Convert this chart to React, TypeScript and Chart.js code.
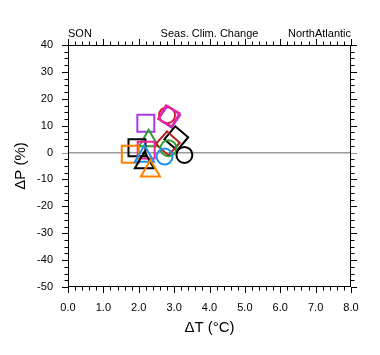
import React, { useEffect, useRef } from "react";
import { Chart, registerables } from "chart.js";

Chart.register(...registerables);

// Seasonal climate change, SON, North Atlantic
const dT: number[] = [2.20, 2.80, 2.87, 2.85, 2.28, 3.06, 2.82, 2.84, 1.95, 2.21, 1.76, 2.73, 3.29, 2.16, 2.16, 2.33];
const dP: number[] = [10.9, 13.9, 13.3, 13.6, 4.4, 5.3, 3.4, 1.6, 1.8, 0.9, -0.6, -1.5, -0.9, -1.4, -3.8, -6.9];

const markerStyle: string[] = ["rect", "circle", "rect", "rect", "triangle", "rect", "rect", "circle", "rect", "rect", "rect", "circle", "circle", "triangle", "triangle", "triangle"];
const markerColor: string[] = ["#a838f0", "#d02038", "#a838f0", "#f0209a", "#2e9e2e", "#000000", "#b02020", "#2e9e2e", "#000000", "#f0209a", "#ff8000", "#2090f0", "#000000", "#2090f0", "#000000", "#ff8000"];
const markerRadius: number[] = [12, 8, 11, 11, 11, 12, 12, 8, 12, 12, 12, 8, 8, 11, 11, 11];
const markerRotation: number[] = [0, 0, 35, 30, 0, 40, 42, 0, 0, 0, 0, 0, 0, 0, 0, 0];

const xTicks: number[] = [0, 1, 2, 3, 4, 5, 6, 7, 8];
const yTicks: number[] = [-50, -40, -30, -20, -10, 0, 10, 20, 30, 40];

const leftText = "SON";
const centerText = "Seas. Clim. Change";
const rightText = "NorthAtlantic";
const xTitle = "\u0394T (\u00B0C)";
const yTitle = "\u0394P (%)";

const FONT = "'Liberation Sans', Arial, Helvetica, sans-serif";

const framePlugin = {
  id: "framePlugin",
  afterDraw(chart: any) {
    const ctx = chart.ctx;
    const { left, right, top, bottom } = chart.chartArea;
    const xs = chart.scales.x;
    const ys = chart.scales.y;
    ctx.save();
    ctx.strokeStyle = "#000";
    ctx.lineWidth = 1;
    ctx.strokeRect(left + 0.5, top + 0.5, right - left - 1, bottom - top - 1);
    const major = 6;
    const minor = 3.5;
    ctx.beginPath();
    // x ticks every 0.2
    for (let i = 0; i <= 40; i++) {
      const v = xTicks[0] + i * 0.2;
      const px = Math.round(xs.getPixelForValue(v)) + 0.5;
      const len = i % 5 === 0 ? major : minor;
      ctx.moveTo(px, bottom);
      ctx.lineTo(px, bottom + len);
      ctx.moveTo(px, top);
      ctx.lineTo(px, top - len);
    }
    ctx.stroke();
    // y ticks every 2.5
    for (let i = 0; i <= 36; i++) {
      const v = yTicks[0] + i * 2.5;
      const py = Math.round(ys.getPixelForValue(v)) + 0.5;
      const len = i % 4 === 0 ? major : minor;
      ctx.beginPath();
      ctx.strokeStyle = v === 0 ? "#9a9a9a" : "#000";
      ctx.moveTo(left, py);
      ctx.lineTo(left - len, py);
      ctx.moveTo(right, py);
      ctx.lineTo(right + len, py);
      ctx.stroke();
    }
    // header texts
    ctx.fillStyle = "#000";
    ctx.font = `11px ${FONT}`;
    ctx.textBaseline = "alphabetic";
    ctx.textAlign = "left";
    ctx.fillText(leftText, left, 37);
    ctx.textAlign = "center";
    ctx.fillText(centerText, (left + right) / 2, 37);
    ctx.textAlign = "right";
    ctx.fillText(rightText, right, 37);
    ctx.restore();
  },
};

export default function App() {
  const ref = useRef<HTMLCanvasElement | null>(null);
  useEffect(() => {
    if (!ref.current) return;
    const points = dT.map((x, i) => ({ x, y: dP[i] }));
    const chart = new Chart(ref.current, {
      type: "scatter",
      data: {
        datasets: [
          {
            data: points,
            pointStyle: markerStyle as any,
            pointBorderColor: markerColor,
            pointBackgroundColor: "rgba(0,0,0,0)",
            pointRadius: markerRadius,
            pointRotation: markerRotation,
            pointBorderWidth: 2,
          },
        ],
      },
      options: {
        responsive: false,
        animation: false,
        events: [],
        layout: { padding: { left: 0, top: 45, right: 29, bottom: 0 } },
        plugins: { legend: { display: false }, tooltip: { enabled: false }, title: { display: false } },
        scales: {
          x: {
            type: "linear",
            min: xTicks[0],
            max: xTicks[xTicks.length - 1],
            afterFit: (s: any) => { s.height = 68; },
            afterBuildTicks: (s: any) => { s.ticks = xTicks.map((v) => ({ value: v })); },
            grid: { display: false, drawTicks: false },
            border: { display: false },
            ticks: {
              padding: 14,
              color: "#000",
              font: { family: FONT, size: 11 },
              callback: (v: any) => Number(v).toFixed(1),
              maxRotation: 0,
            },
            title: { display: true, text: xTitle, color: "#000", font: { family: FONT, size: 15 }, padding: { top: 0, bottom: 18 } },
          },
          y: {
            type: "linear",
            min: yTicks[0],
            max: yTicks[yTicks.length - 1],
            afterFit: (s: any) => { s.width = 68; },
            afterBuildTicks: (s: any) => { s.ticks = yTicks.map((v) => ({ value: v })); },
            grid: {
              drawTicks: false,
              color: (c: any) => (c.tick && c.tick.value === 0 ? "#9a9a9a" : "rgba(0,0,0,0)"),
              lineWidth: 1.5,
            },
            border: { display: false },
            ticks: {
              padding: 15,
              color: "#000",
              font: { family: FONT, size: 11 },
              callback: (v: any) => String(v),
            },
            title: { display: true, text: yTitle, color: "#000", font: { family: FONT, size: 15 }, padding: { top: 12, bottom: 0 } },
          },
        },
      },
      plugins: [framePlugin],
    });
    return () => chart.destroy();
  }, []);
  return (
    <div style={{ position: "absolute", left: 0, top: 0, width: 380, height: 355, background: "#fff" }}>
      <canvas ref={ref} width={380} height={355} style={{ display: "block" }} />
    </div>
  );
}
